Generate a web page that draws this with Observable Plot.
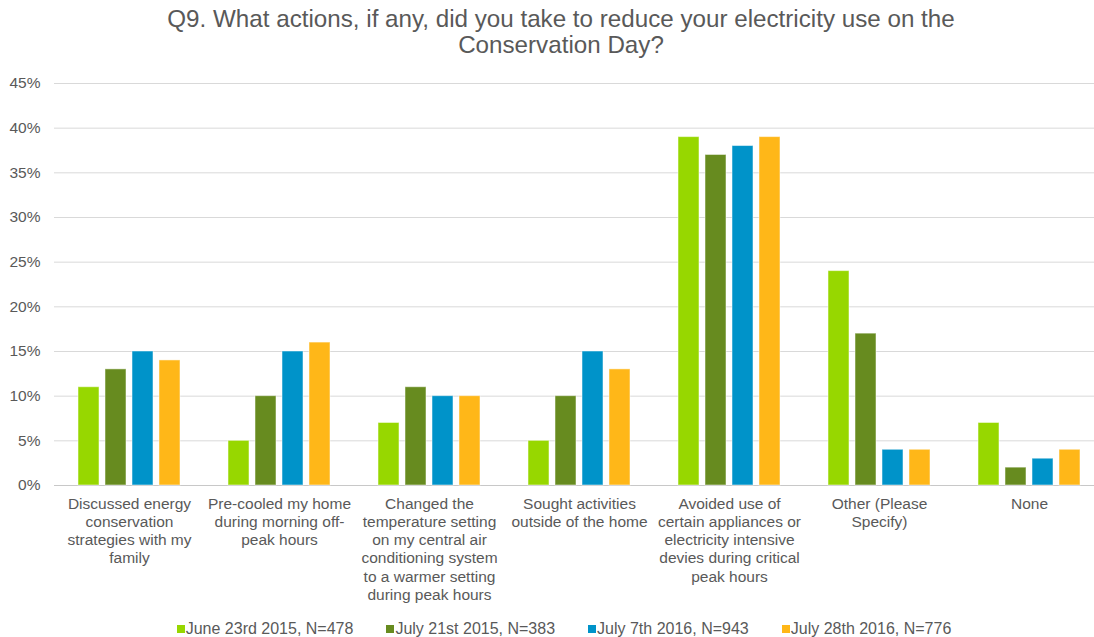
<!DOCTYPE html>
<html>
<head>
<meta charset="utf-8">
<script src="https://cdn.jsdelivr.net/npm/d3@7"></script>
<script src="https://cdn.jsdelivr.net/npm/@observablehq/plot@0.6"></script>
<style>
  html, body { margin: 0; padding: 0; background: #fff; overflow: hidden; }
  body { width: 1094px; height: 637px; font-family: "Liberation Sans", Arial, sans-serif; color: #595959; }
  #title { text-align: center; font-size: 24.2px; line-height: 26px; padding-top: 6px; padding-left: 28px; height: 54px; box-sizing: border-box; white-space: nowrap; }
  #legend { display: flex; justify-content: center; gap: 33px; font-size: 16px; line-height: 18px; margin-top: 0; padding-left: 34px; }
  #legend .item { display: flex; align-items: center; }
  #legend .sw { width: 8px; height: 8px; margin-right: 1px; }
</style>
</head>
<body>
<div id="title">Q9. What actions, if any, did you take to reduce your electricity use on the<br>Conservation Day?</div>
<div id="chart"></div>
<div id="legend"></div>
<script>
// Response categories (wrapped as on the axis)
const actions = [
  "Discussed energy\nconservation\nstrategies with my\nfamily",
  "Pre-cooled my home\nduring morning off-\npeak hours",
  "Changed the\ntemperature setting\non my central air\nconditioning system\nto a warmer setting\nduring peak hours",
  "Sought activities\noutside of the home",
  "Avoided use of\ncertain appliances or\nelectricity intensive\ndevies during critical\npeak hours",
  "Other (Please\nSpecify)",
  "None"
];

// Survey waves
const waves = [
  "June 23rd 2015, N=478",
  "July 21st 2015, N=383",
  "July 7th 2016, N=943",
  "July 28th 2016, N=776"
];
const waveColors = ["#97d700", "#678b1f", "#0093c9", "#ffb718"];

// Share of respondents (%) per action, one array per wave
const june2015 = [11, 5, 7, 5, 39, 24, 7];
const july2015 = [13, 10, 11, 10, 37, 17, 2];
const july7_2016 = [15, 15, 10, 15, 38, 4, 3];
const july28_2016 = [14, 16, 10, 13, 39, 4, 4];

const yTicks = [0, 0.05, 0.10, 0.15, 0.20, 0.25, 0.30, 0.35, 0.40, 0.45];

const series = [june2015, july2015, july7_2016, july28_2016];
const rows = [];
actions.forEach((a, i) => {
  waves.forEach((w, j) => rows.push({action: a, wave: w, value: series[j][i] / 100}));
});

const textColor = "#595959";

// Facet bands touch each other so the gridlines run uninterrupted;
// the outer padding of the inner x scale separates the groups.
const chart = Plot.plot({
  width: 1094,
  height: 566,
  marginTop: 29,
  marginBottom: 135,
  marginLeft: 53,
  marginRight: -11,
  style: {fontFamily: "'Liberation Sans', Arial, sans-serif", fontSize: "15.5px", color: textColor, overflow: "visible"},
  fx: {domain: actions, padding: 0, label: null},
  x: {domain: waves, paddingInner: 0.23, paddingOuter: 0.854, axis: null},
  y: {domain: [0, 0.45]},
  color: {domain: waves, range: waveColors},
  marks: [
    Plot.gridY({ticks: yTicks.slice(1), stroke: "#d9d9d9", strokeOpacity: 1}),
    Plot.axisY({
      ticks: yTicks, tickFormat: d3.format(".0%"), tickSize: 0, tickPadding: 14,
      label: null, fill: textColor, fontSize: 15.5
    }),
    Plot.ruleY([0], {stroke: "#c8c8c8", strokeWidth: 1.2}),
    Plot.barY(rows, {fx: "action", x: "wave", y: "value", fill: "wave", stroke: "white", strokeOpacity: 0.5, strokeWidth: 1}),
    Plot.axisFx({
      anchor: "bottom", tickSize: 0, tickPadding: 10, label: null,
      fontSize: 15.5, fill: textColor, lineHeight: 1.18
    })
  ]
});
document.getElementById("chart").append(chart);

// Legend
const legend = document.getElementById("legend");
waves.forEach((w, i) => {
  const item = document.createElement("div");
  item.className = "item";
  const sw = document.createElement("span");
  sw.className = "sw";
  sw.style.background = waveColors[i];
  const label = document.createElement("span");
  label.textContent = w;
  item.append(sw, label);
  legend.append(item);
});
</script>
</body>
</html>
